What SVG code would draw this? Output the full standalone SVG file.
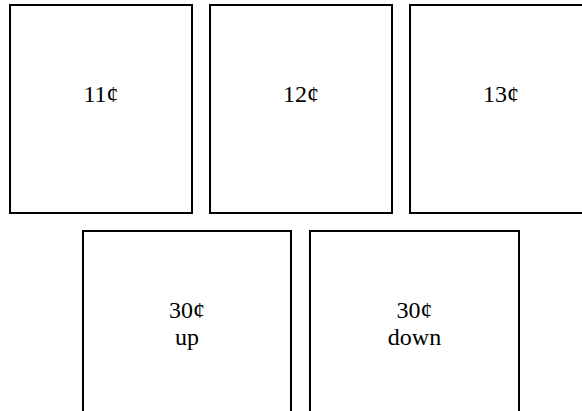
<svg xmlns="http://www.w3.org/2000/svg" width="582" height="411" viewBox="0 0 582 411">
<style>
.box{fill:#fff;stroke:#000;stroke-width:2}
.lbl{font-family:"Liberation Serif","Times New Roman",serif;font-size:24px;fill:#000;text-anchor:middle}
</style>
<rect x="0" y="0" width="582" height="411" fill="#fff"/>
<g id="n11"><rect class="box" x="10" y="5" width="182" height="208"/><text class="lbl" x="101" y="102">11¢</text></g>
<g id="n12"><rect class="box" x="210" y="5" width="182" height="208"/><text class="lbl" x="301" y="102">12¢</text></g>
<g id="n13"><rect class="box" x="410" y="5" width="182" height="208"/><text class="lbl" x="501" y="102">13¢</text></g>
<g id="n30up"><rect class="box" x="83" y="231" width="208" height="200"/><text class="lbl" x="187" y="318">30¢</text><text class="lbl" x="187" y="345">up</text></g>
<g id="n30down"><rect class="box" x="310" y="231" width="209" height="200"/><text class="lbl" x="414.5" y="318">30¢</text><text class="lbl" x="414.5" y="345">down</text></g>
<g id="connectors"></g>
</svg>
